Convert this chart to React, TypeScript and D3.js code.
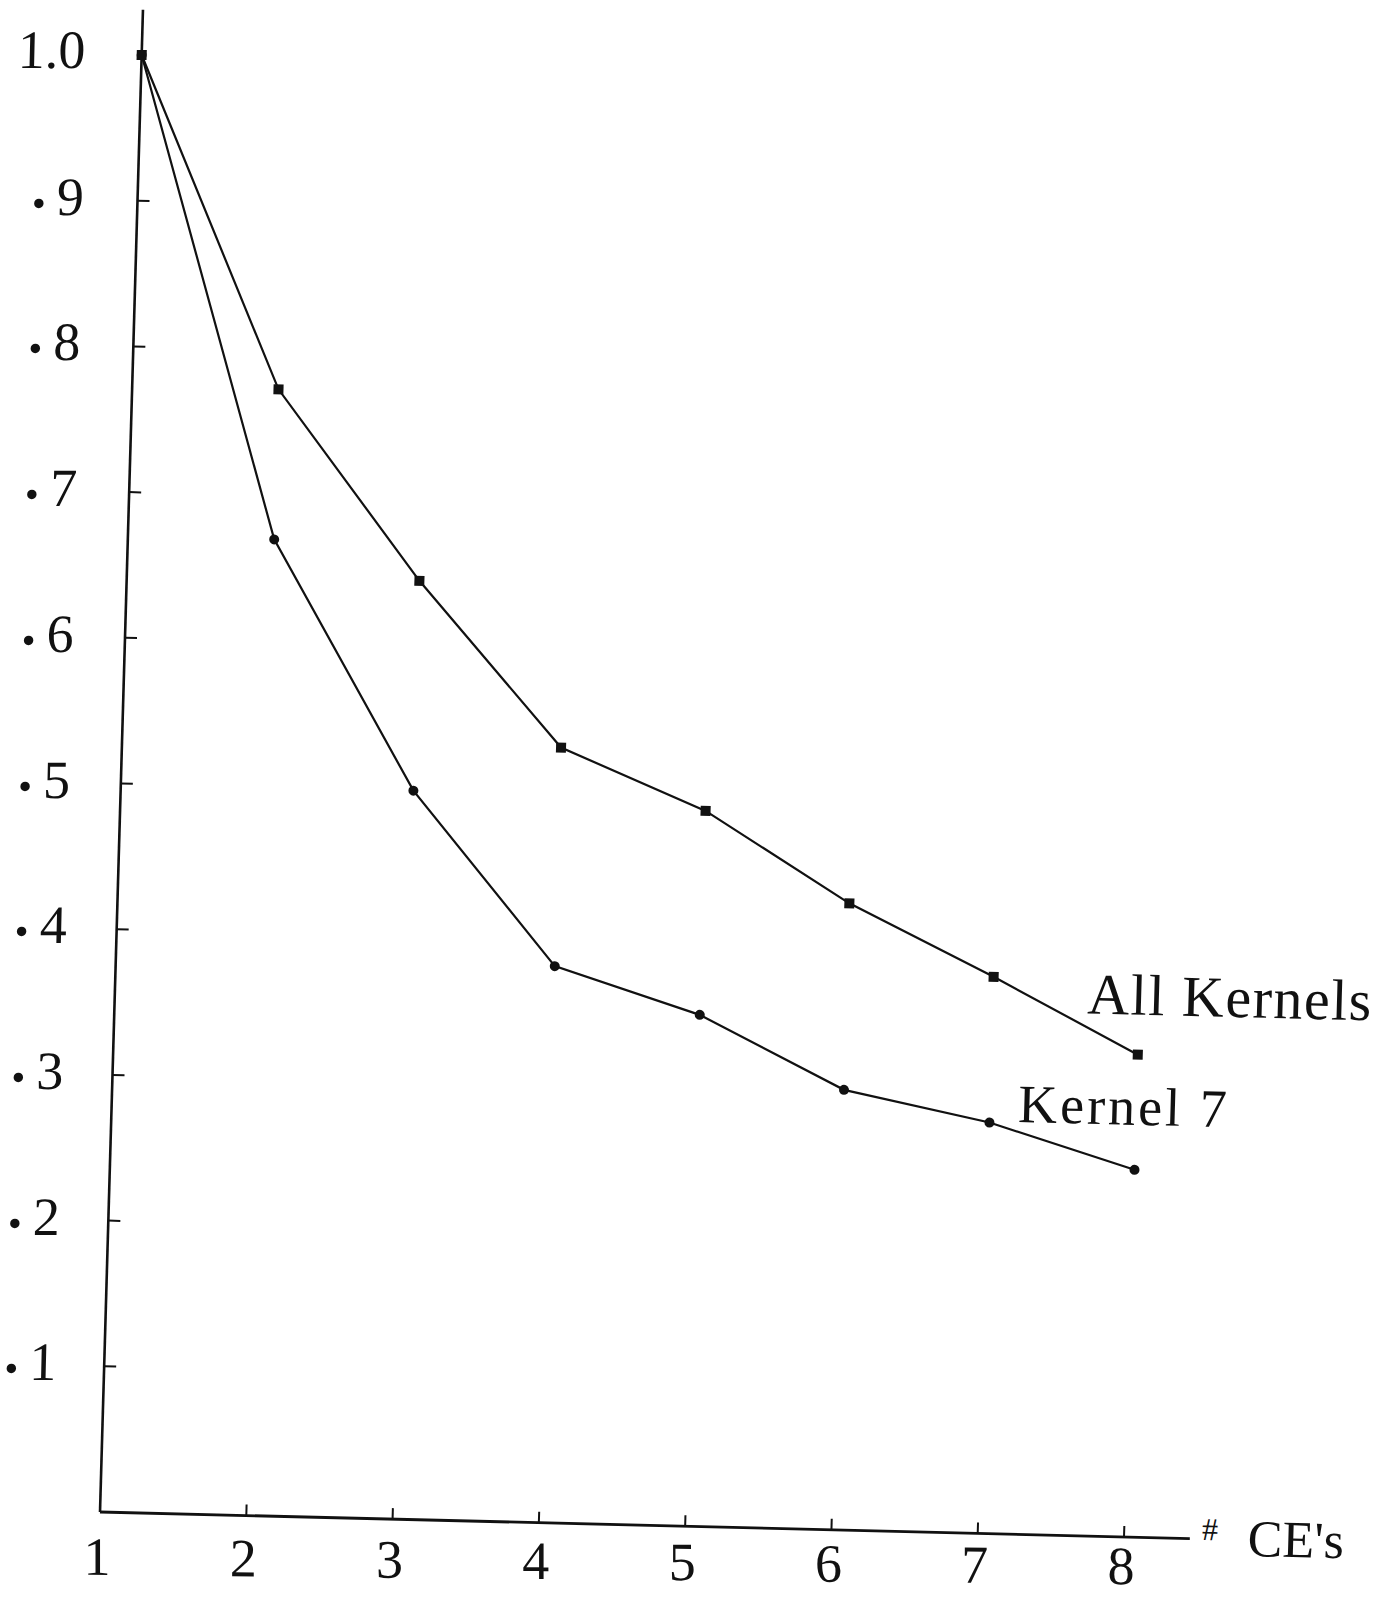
import React from 'react';
import * as d3 from 'd3';

// ---- data ----
const CES = [1, 2, 3, 4, 5, 6, 7, 8];
const ALL_KERNELS = [1.0, 0.773, 0.644, 0.532, 0.491, 0.43, 0.382, 0.331];
const KERNEL_7 = [1.0, 0.67, 0.5, 0.382, 0.351, 0.302, 0.282, 0.252];
const SERIES_NAMES = ['All Kernels', 'Kernel 7'];
const Y_TICKS = [0.1, 0.2, 0.3, 0.4, 0.5, 0.6, 0.7, 0.8, 0.9];
const Y_TICK_DIGITS = ['1', '2', '3', '4', '5', '6', '7', '8', '9'];
const Y_TOP_VALUE = 1.0;
const Y_TOP_LABEL = '1.0';
const X_TICKS = [2, 3, 4, 5, 6, 7, 8];
const X_TICK_LABELS = ['1', '2', '3', '4', '5', '6', '7', '8'];
const X_TITLE_SYMBOL = '#';
const X_TITLE_TEXT = "CE's";

const FONT = "'Liberation Serif', 'DejaVu Serif', serif";
const INK = '#111';

export default function App() {
  const W = 1386;
  const H = 1597;
  const ox = 100;
  const oy = 1512;

  const x = d3.scaleLinear().domain([1, 8]).range([0, 1024]);
  const y = d3.scaleLinear().domain([0, 1]).range([0, -1457]);

  const line = d3
    .line<number>()
    .x((_, i) => x(CES[i]))
    .y((d) => y(d));

  const xEnd = 8.45;
  const yEnd = 1.031;

  // scanned page is slightly sheared
  const mainT = `matrix(1,0.0244,-0.0286,1,${ox},${oy})`;
  const yLabT = `matrix(1,0,-0.0235,1,${ox},${oy})`;
  const xLabT = `matrix(1,0.009,0,1,${ox},${oy})`;

  const lastA = ALL_KERNELS[ALL_KERNELS.length - 1];
  const lastK = KERNEL_7[KERNEL_7.length - 1];

  return (
    <svg
      width={W}
      height={H}
      viewBox={`0 0 ${W} ${H}`}
      style={{ position: 'absolute', left: 0, top: 0, background: '#fff' }}
    >
      <rect x={0} y={0} width={W} height={H} fill="#fff" />
      <g transform={mainT}>
        {/* axes */}
        <line x1={0} y1={0} x2={0} y2={y(yEnd)} stroke={INK} strokeWidth={2.6} />
        <line x1={0} y1={0} x2={x(xEnd)} y2={0} stroke={INK} strokeWidth={2.8} />
        {Y_TICKS.map((t) => (
          <line key={'yt' + t} x1={0} x2={12} y1={y(t)} y2={y(t)} stroke={INK} strokeWidth={2} />
        ))}
        {X_TICKS.map((t) => (
          <line key={'xt' + t} x1={x(t)} x2={x(t)} y1={0} y2={-11} stroke={INK} strokeWidth={2} />
        ))}

        {/* series */}
        <path d={line(ALL_KERNELS) || ''} fill="none" stroke={INK} strokeWidth={2.2} />
        <path d={line(KERNEL_7) || ''} fill="none" stroke={INK} strokeWidth={2.2} />
        {ALL_KERNELS.map((v, i) => (
          <rect key={'a' + i} x={x(CES[i]) - 5} y={y(v) - 5} width={10} height={10} fill={INK} />
        ))}
        {KERNEL_7.map((v, i) => (
          <circle key={'k' + i} cx={x(CES[i])} cy={y(v)} r={5} fill={INK} />
        ))}

        {/* series labels */}
        <text
          x={x(8) - 52}
          y={y(lastA) - 40}
          fontFamily={FONT}
          fontSize={58}
          letterSpacing={1.5}
          fill={INK}
        >
          {SERIES_NAMES[0]}
        </text>
        <text
          x={x(8) - 118}
          y={y(lastK) - 45}
          fontFamily={FONT}
          fontSize={54}
          letterSpacing={3}
          fill={INK}
        >
          {SERIES_NAMES[1]}
        </text>

        {/* x axis title */}
        <text x={x(xEnd) + 12} y={1} fontFamily={FONT} fontSize={32} fill={INK}>
          {X_TITLE_SYMBOL}
        </text>
        <text x={x(xEnd) + 58} y={16} fontFamily={FONT} fontSize={52} fill={INK}>
          {X_TITLE_TEXT}
        </text>
      </g>

      {/* y tick labels */}
      <g transform={yLabT} fontFamily={FONT} fill={INK}>
        {Y_TICKS.map((t, i) => (
          <text key={'yl' + t} x={-47} y={y(t) + 14} fontSize={54} textAnchor="end">
            <tspan fontSize={80} dy={-8}>.</tspan>
            <tspan dy={8} dx={8}>{Y_TICK_DIGITS[i]}</tspan>
          </text>
        ))}
        <text x={-49} y={y(Y_TOP_VALUE) + 13} fontSize={54} textAnchor="end">
          {Y_TOP_LABEL}
        </text>
      </g>

      {/* x tick labels */}
      <g transform={xLabT} fontFamily={FONT} fill={INK}>
        {CES.map((c, i) => (
          <text key={'xl' + c} x={x(c) - 3} y={63} fontSize={54} textAnchor="middle">
            {X_TICK_LABELS[i]}
          </text>
        ))}
      </g>
    </svg>
  );
}
